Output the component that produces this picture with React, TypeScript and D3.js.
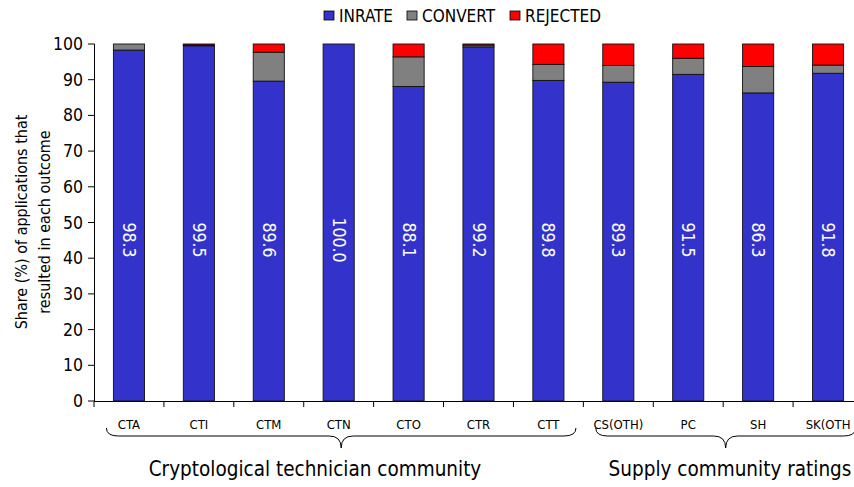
import * as d3 from 'd3';

const categories = ['CTA', 'CTI', 'CTM', 'CTN', 'CTO', 'CTR', 'CTT', 'CS(OTH)', 'PC', 'SH', 'SK(OTH'];
const inrate = [98.3, 99.5, 89.6, 100.0, 88.1, 99.2, 89.8, 89.3, 91.5, 86.3, 91.8];
const convert = [1.7, 0.2, 8.1, 0.0, 8.3, 0.5, 4.5, 4.7, 4.5, 7.4, 2.3];
const rejected = [0.0, 0.3, 2.3, 0.0, 3.6, 0.3, 5.7, 6.0, 4.0, 6.3, 5.9];
const seriesNames = ['INRATE', 'CONVERT', 'REJECTED'];
const seriesColors = ['#3333cc', '#808080', '#ff0000'];
const yTicks = [0, 10, 20, 30, 40, 50, 60, 70, 80, 90, 100];
const groups = [
  { label: 'Cryptological technician community', first: 'CTA', last: 'CTT' },
  { label: 'Supply community ratings', first: 'CS(OTH)', last: 'SK(OTH' },
];

const FONT = "'DejaVu Sans Condensed', 'Liberation Sans Narrow', 'Liberation Sans', sans-serif";

export default function App() {
  const width = 854;
  const height = 487;

  const x = d3.scaleBand<string>().domain(categories).range([94, 863]).paddingInner(0.555).paddingOuter(0.2775);
  const y = d3.scaleLinear().domain([0, 100]).range([401, 44]);

  const rows = categories.map((c, i) => ({ cat: c, INRATE: inrate[i], CONVERT: convert[i], REJECTED: rejected[i] }));
  const stacked = d3.stack<any>().keys(seriesNames)(rows);
  const bw = x.bandwidth();
  const step = x.step();

  // curly brace under a group of categories
  const bracePath = (x1: number, x2: number) => {
    const mid = (x1 + x2) / 2;
    return `M${x1},428 Q${x1},436 ${x1 + 12},436 L${mid - 12},436 Q${mid},436 ${mid},448 Q${mid},436 ${mid + 12},436 L${x2 - 12},436 Q${x2},436 ${x2},428`;
  };

  const legendX = [324, 407, 510];

  return (
    <svg width={width} height={height} style={{ position: 'absolute', left: 0, top: 0, background: '#fff' }} fontFamily={FONT}>
      {/* legend */}
      {seriesNames.map((s, i) => (
        <g key={s}>
          <rect x={legendX[i]} y={11} width={10} height={9} fill={seriesColors[i]} stroke="#000" strokeWidth={0.8} />
          <text x={legendX[i] + 15} y={21.5} fontSize={17} fill="#000">{s}</text>
        </g>
      ))}

      {/* bars */}
      {stacked.map((layer, li) => (
        <g key={layer.key}>
          {layer.map((d, i) => {
            const h = y(d[0]) - y(d[1]);
            if (h <= 0) return null;
            return (
              <rect key={i} x={x(categories[i])} y={y(d[1])} width={bw} height={h}
                fill={seriesColors[li]} stroke="#111" strokeWidth={0.9} />
            );
          })}
        </g>
      ))}

      {/* value labels */}
      {categories.map((c, i) => {
        const cx = (x(c) as number) + bw / 2;
        return (
          <text key={c} transform={`translate(${cx},240) rotate(90)`} textAnchor="middle" dominantBaseline="central"
            fontSize={17.5} fill="#fff">{inrate[i].toFixed(1)}</text>
        );
      })}

      {/* y axis */}
      <line x1={94.5} x2={94.5} y1={44} y2={401} stroke="#000" strokeWidth={1} />
      {yTicks.map((t) => (
        <g key={t}>
          <line x1={88} x2={94.5} y1={y(t)} y2={y(t)} stroke="#000" strokeWidth={1} />
          <text x={83} y={y(t)} textAnchor="end" dominantBaseline="central" fontSize={17.5} fill="#000">{t}</text>
        </g>
      ))}
      <text transform="translate(21,222) rotate(-90)" textAnchor="middle" dominantBaseline="central" fontSize={16} fill="#000">
        Share (%) of applications that
      </text>
      <text transform="translate(44,222) rotate(-90)" textAnchor="middle" dominantBaseline="central" fontSize={16} fill="#000">
        resulted in each outcome
      </text>

      {/* x axis */}
      <line x1={94} x2={863} y1={401.5} y2={401.5} stroke="#000" strokeWidth={1} />
      {categories.map((c, i) => {
        const bx = (x(c) as number) - (step - bw) / 2;
        return <line key={'t' + i} x1={bx} x2={bx} y1={401.5} y2={407} stroke="#000" strokeWidth={1} />;
      })}
      {categories.map((c) => (
        <text key={'l' + c} x={(x(c) as number) + bw / 2} y={429} textAnchor="middle" fontSize={13} fill="#000">{c}</text>
      ))}

      {/* group braces */}
      {groups.map((g) => {
        const x1 = (x(g.first) as number) - 7;
        const x2 = (x(g.last) as number) + bw + 12;
        return <path key={g.label} d={bracePath(x1, x2)} fill="none" stroke="#000" strokeWidth={1} />;
      })}
      <text x={315} y={476} textAnchor="middle" fontSize={20.5} fill="#000">{groups[0].label}</text>
      <text x={730} y={476} textAnchor="middle" fontSize={20.5} fill="#000">{groups[1].label}</text>
    </svg>
  );
}
